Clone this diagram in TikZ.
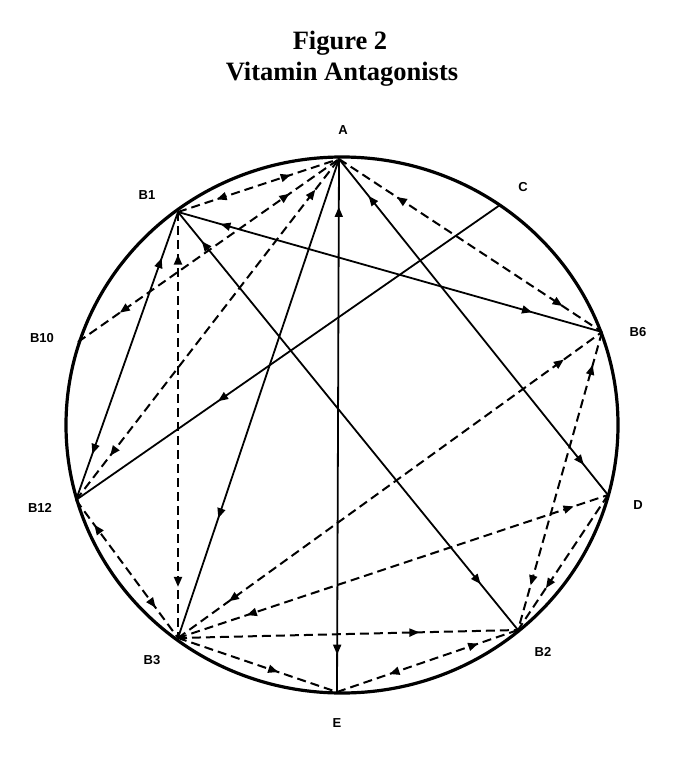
\documentclass[tikz,border=0pt]{standalone}
\usepackage{fontspec}
\setmainfont{Liberation Serif}
\setsansfont{Liberation Sans}
\usetikzlibrary{arrows.meta,decorations.markings}
\tikzset{
  sol/.style={line width=1.8pt},
  dsh/.style={line width=2pt, dash pattern=on 9pt off 5pt},
  fwd/.style={postaction={decorate,decoration={markings,
     mark=at position #1 with {\arrow{Triangle[length=10pt,width=8pt]}}}}},
  bwd/.style={postaction={decorate,decoration={markings,
     mark=at position #1 with {\arrowreversed{Triangle[length=10pt,width=8pt]}}}}},
  lbl/.style={font=\sffamily\bfseries\fontsize{13}{13}\selectfont, inner sep=0pt},
  ttl/.style={font=\bfseries\fontsize{26.5}{26.5}\selectfont, inner sep=0pt}
}
\begin{document}
\begin{tikzpicture}[x=1pt,y=-1pt]
\useasboundingbox (0,0) rectangle (678,760);
\fill[white] (0,0) rectangle (678,760);

% title
\node[ttl,anchor=base] (t1) at (340,50) {Figure 2};
\node[ttl,anchor=base] (t2) at (342,81) {Vitamin Antagonists};

% outer circle
\draw[line width=3.2pt] (342,425) ellipse [x radius=276pt, y radius=268pt];

% points on the circle
\coordinate (A) at (339,159);
\coordinate (B1) at (178,212);
\coordinate (C) at (500,205);
\coordinate (B6) at (602,332);
\coordinate (B10) at (78,342);
\coordinate (D) at (608,495);
\coordinate (B12) at (76,500);
\coordinate (B3) at (178,638);
\coordinate (B2) at (518,630);
\coordinate (E) at (337,692);

% labels
\node[lbl] (lA) at (343,130) {A};
\node[lbl] (lB1) at (147,195) {B1};
\node[lbl] (lC) at (523,187) {C};
\node[lbl] (lB6) at (638,332) {B6};
\node[lbl] (lB10) at (42,338) {B10};
\node[lbl] (lD) at (638,505) {D};
\node[lbl] (lB12) at (40,508) {B12};
\node[lbl] (lB3) at (152,660) {B3};
\node[lbl] (lB2) at (543,652) {B2};
\node[lbl] (lE) at (337,723) {E};

% connectors
\draw[dsh,bwd=.24,fwd=.7] (B1) -- (A);
\draw[dsh,bwd=.16,fwd=.81] (B10) -- (A);
\draw[dsh,bwd=.13,fwd=.91] (B12) -- (A);
\draw[sol,fwd=.75] (A) -- (B3);
\draw[sol,bwd=.09,fwd=.93] (A) -- (E);
\draw[sol,bwd=.11,fwd=.91] (A) -- (D);
\draw[dsh,bwd=.22,fwd=.85] (A) -- (B6);
\draw[sol,bwd=.1,fwd=.835] (B1) -- (B6);
\draw[sol,bwd=.07,fwd=.89] (B1) -- (B2);
\draw[dsh,bwd=.1,fwd=.88] (B1) -- (B3);
\draw[sol,bwd=.16,fwd=.84] (B1) -- (B12);
\draw[sol,fwd=.665] (C) -- (B12);
\draw[dsh,bwd=.18,fwd=.78] (B12) -- (B3);
\draw[dsh,fwd=.71] (B3) -- (B2);
\draw[dsh,fwd=.63] (B3) -- (E);
\draw[dsh,bwd=.29,fwd=.78] (E) -- (B2);
\draw[dsh,bwd=.16,fwd=.92] (B3) -- (D);
\draw[dsh,bwd=.12,fwd=.91] (B3) -- (B6);
\draw[dsh,bwd=.11,fwd=.85] (B6) -- (B2);
\draw[dsh,fwd=.69] (D) -- (B2);
\end{tikzpicture}
\end{document}
